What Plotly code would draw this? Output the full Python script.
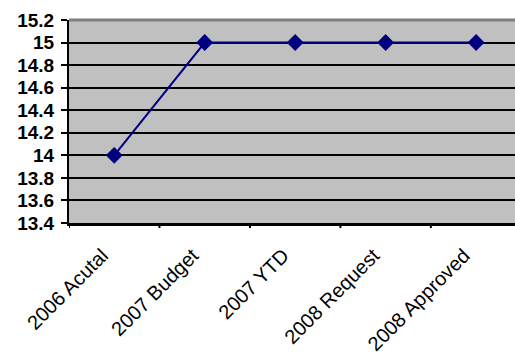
import plotly.graph_objects as go

categories = ["2006 Acutal", "2007 Budget", "2007 YTD", "2008 Request", "2008 Approved"]
values = [14, 15, 15, 15, 15]
y_ticks = [13.4, 13.6, 13.8, 14, 14.2, 14.4, 14.6, 14.8, 15, 15.2]
y_labels = ["13.4", "13.6", "13.8", "14", "14.2", "14.4", "14.6", "14.8", "15", "15.2"]

fig = go.Figure()
fig.add_trace(go.Scatter(
    x=list(range(len(categories))),
    y=values,
    mode="lines+markers",
    line=dict(color="#000080", width=2),
    marker=dict(symbol="diamond", size=13, color="#000080"),
    showlegend=False,
    cliponaxis=False,
))

fig.update_layout(
    width=515,
    height=354,
    margin=dict(l=69, r=0, t=20, b=131, autoexpand=False),
    paper_bgcolor="white",
    plot_bgcolor="#C0C0C0",
    font=dict(family="Arial, Liberation Sans", color="black"),
    xaxis=dict(
        range=[-0.5, 4.43],
        tickmode="array",
        tickvals=list(range(len(categories))),
        ticktext=categories,
        tickangle=-45,
        showgrid=False,
        zeroline=False,
        showline=True,
        linecolor="black",
        linewidth=3,
        ticks="",
        tickfont=dict(size=20),
        ticklabelstandoff=10,
        ticklabelshift=-12,
        automargin=False,
    ),
    yaxis=dict(
        range=[13.4, 15.2],
        tickmode="array",
        tickvals=y_ticks,
        ticktext=y_labels,
        showgrid=True,
        gridcolor="black",
        gridwidth=2,
        zeroline=False,
        showline=True,
        linecolor="black",
        linewidth=2,
        ticks="outside",
        ticklen=6,
        tickwidth=2,
        tickcolor="black",
        tickfont=dict(size=19, family="Liberation Sans, Arial", weight="bold"),
        ticklabelstandoff=3,
        automargin=False,
    ),
)

# category boundary ticks below the x axis
for b in [-0.5, 0.5, 1.5, 2.5, 3.5]:
    fig.add_shape(type="line", xref="x", yref="paper", x0=b, x1=b, y0=0, y1=-0.025,
                  line=dict(color="black", width=2))

# grey plot border along the top
fig.add_shape(type="line", xref="paper", yref="paper", x0=0, x1=1, y0=1, y1=1,
              line=dict(color="#808080", width=3))

fig.write_html("out.html")
